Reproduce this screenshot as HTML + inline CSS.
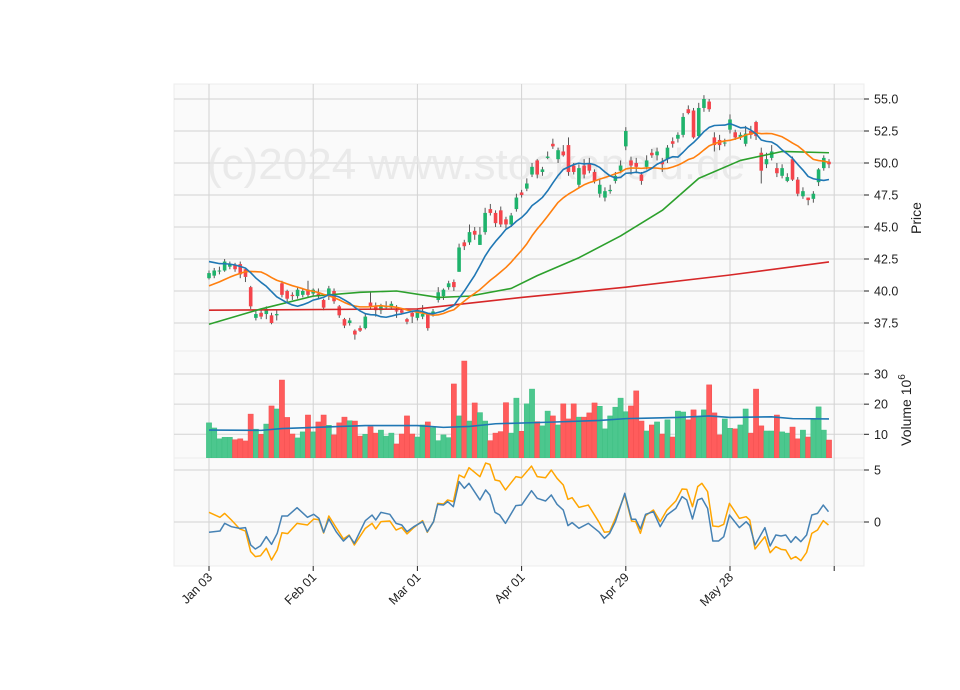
<!DOCTYPE html>
<html><head><meta charset="utf-8"><style>
body{margin:0;background:#fff;}
svg{display:block;font-family:"Liberation Sans",sans-serif;}
</style></head><body>
<svg id="chart" width="960" height="690" viewBox="0 0 960 690" xmlns="http://www.w3.org/2000/svg">
<defs>
<clipPath id="cp"><rect x="174" y="84" width="690" height="267"/></clipPath>
<clipPath id="cv"><rect x="174" y="351" width="690" height="107"/></clipPath>
<clipPath id="cm"><rect x="174" y="458" width="690" height="108"/></clipPath>
</defs>
<rect x="174" y="84" width="690" height="267" fill="#fafafa" stroke="#ececec"/>
<rect x="174" y="351" width="690" height="107" fill="#fafafa" stroke="#ececec"/>
<rect x="174" y="458" width="690" height="108" fill="#fafafa" stroke="#ececec"/>
<g id="grid"></g>
<text x="207" y="179" font-size="44" fill="#e6e6e6" fill-opacity="0.8">(c)2024 www.stockanoid.de</text>
<g id="marks"></g>
<g id="axes"></g>
<text transform="translate(921,218) rotate(-90)" text-anchor="middle" font-size="14" fill="#222">Price</text>
<text transform="translate(911,410) rotate(-90)" text-anchor="middle" font-size="14" fill="#222">Volume  10<tspan font-size="10" dy="-6">6</tspan></text>
</svg>
<script>
// ---- data ----
const xTickIdx=[0,20,40,60,80,100,120];
const xTickLabels=["Jan 03","Feb 01","Mar 01","Apr 01","Apr 29","May 28",""];
const priceTicks=[37.5,40.0,42.5,45.0,47.5,50.0,52.5,55.0];
const volTicks=[10,20,30];
const macdTicks=[0,5];
const warmupCloses=[38.5,38.5,38.5,38.5,38.5,38.5,38.5,38.5,38.5,38.5,42.4,42.4,42.4,42.4,42.4,42.4,42.4,42.4,42.4];
const opens=[41.0,41.2,41.6,41.6,41.9,42.0,42.1,41.7,40.3,37.9,38.3,38.2,38.1,38.1,40.6,40.0,39.7,39.6,39.7,40.1,39.8,39.8,39.3,39.6,40.0,38.8,37.8,37.5,36.9,37.1,37.1,39.1,38.8,38.5,38.8,38.7,38.5,38.5,37.8,38.3,37.9,38.0,38.2,38.2,39.3,39.6,40.3,40.7,41.5,43.8,43.8,44.7,43.6,44.6,46.4,46.1,46.3,45.6,45.2,46.4,47.7,48.0,49.1,50.2,49.3,50.4,51.5,50.3,50.9,51.4,49.8,48.3,49.8,50.0,49.3,47.6,47.3,47.8,48.6,49.4,51.3,50.2,50.0,49.1,49.7,50.8,50.6,50.1,50.3,51.7,51.9,52.2,54.2,54.1,52.1,54.3,54.8,52.0,51.8,51.6,52.6,52.4,52.0,51.5,52.5,53.2,50.8,49.9,50.4,49.6,49.0,48.6,50.3,48.7,47.4,47.3,47.2,48.5,49.6,50.1];
const closes=[41.4,41.6,41.6,42.3,42.1,41.7,41.3,41.1,38.8,38.2,38.0,38.6,37.5,38.2,39.7,39.4,39.6,40.1,40.0,39.7,40.1,39.6,38.7,40.2,39.2,38.1,37.3,37.7,36.6,36.9,38.0,38.8,38.5,38.8,38.8,39.0,38.4,38.3,37.6,38.0,38.4,38.2,37.1,38.4,39.9,40.1,40.6,40.3,43.4,43.5,44.6,44.4,44.4,46.1,46.1,45.3,45.2,45.2,45.9,47.3,47.5,48.4,49.7,49.1,49.5,50.5,51.3,51.0,50.6,49.3,49.3,49.6,49.1,49.4,48.6,48.3,47.8,47.9,49.0,49.8,52.5,49.8,49.7,48.6,50.2,50.6,50.9,49.9,51.2,51.5,52.2,53.6,53.9,52.0,54.3,55.0,54.2,51.4,51.4,51.6,53.4,52.0,52.2,52.3,52.2,52.1,49.4,50.3,50.9,49.2,49.6,48.9,48.7,47.6,47.8,47.1,47.6,49.5,50.4,49.9];
const highs=[41.6,41.8,41.9,42.5,42.3,42.2,42.3,41.8,40.4,38.5,38.5,38.8,38.3,38.5,40.8,40.1,39.9,40.3,40.2,40.8,40.2,40.2,39.4,40.4,40.2,38.9,37.9,37.9,37.0,37.3,38.2,39.9,39.1,39.0,39.2,39.2,38.9,38.6,37.9,38.4,38.6,38.9,38.3,38.6,40.3,40.2,40.8,40.9,43.7,44.0,45.2,45.0,45.0,46.5,46.8,46.3,46.6,45.8,46.1,47.6,47.9,48.8,50.0,50.3,49.7,50.9,51.9,51.2,51.4,52.0,50.0,49.9,50.3,50.4,49.5,48.7,48.1,48.3,49.3,50.2,52.8,50.5,50.4,49.3,50.6,51.1,51.2,50.4,51.4,52.0,52.4,53.9,54.5,54.3,54.7,55.3,55.0,52.4,52.2,51.9,53.8,52.6,52.4,52.9,52.9,53.3,51.2,50.8,51.4,50.0,49.9,49.2,50.5,48.9,48.1,47.3,47.8,49.6,50.6,50.3];
const lows=[40.9,41.0,41.3,41.5,41.7,41.5,41.0,40.7,38.6,37.7,37.8,37.8,37.4,37.7,39.5,39.1,39.3,39.4,39.5,39.5,39.6,39.4,38.5,39.3,39.0,37.9,37.1,37.3,36.2,36.8,37.0,38.6,38.0,38.2,38.6,38.6,37.9,38.2,37.4,37.5,37.7,37.8,36.9,38.0,39.1,39.3,40.1,40.0,41.5,43.2,43.6,44.0,43.6,44.4,45.9,45.0,45.0,44.9,45.0,46.2,47.3,47.8,48.9,48.8,49.0,50.3,51.1,50.0,50.5,49.0,49.1,48.0,48.8,49.2,48.4,47.3,47.0,47.6,48.4,49.2,51.0,49.1,49.2,48.3,49.5,50.4,50.2,49.3,50.0,51.2,51.6,52.0,53.8,51.9,52.0,54.0,54.0,50.9,51.0,51.3,52.3,51.8,51.8,51.3,51.9,51.8,48.4,49.6,50.2,48.9,48.8,48.5,48.6,47.4,47.2,46.7,46.9,48.2,49.4,49.6];
const volumes=[13.8,12.1,8.5,9.0,9.0,8.2,8.5,7.8,16.7,11.7,10.0,13.4,19.4,18.4,28.0,15.6,10.1,8.8,10.8,16.4,10.8,14.1,16.4,13.0,9.8,13.8,15.7,14.5,14.4,9.4,10.0,12.5,10.4,11.4,9.4,10.4,6.8,10.1,16.1,10.1,9.1,13.1,14.1,12.2,7.9,9.8,8.9,26.7,16.1,34.3,14.4,20.4,17.2,14.4,7.9,10.4,10.9,20.5,10.4,22.0,11.0,20.1,25.0,14.2,12.8,17.7,16.1,13.1,20.1,15.1,20.1,15.7,15.7,17.1,20.4,19.3,11.8,16.1,19.0,22.0,17.5,19.4,24.4,14.4,11.1,13.1,14.1,10.1,14.8,9.1,17.7,17.4,14.8,18.1,15.7,18.1,26.4,17.1,9.8,15.1,12.0,11.8,13.1,18.4,10.4,25.0,12.8,11.1,11.1,16.4,10.8,10.4,12.4,8.5,11.4,9.1,14.8,19.1,11.4,8.1];
const ma50Idx=[0,10,20,29,36,44,50,58,63,71,79,87,94,102,110,119];
const ma50Val=[37.4,38.6,39.6,39.9,40.0,39.5,39.6,40.2,41.2,42.6,44.3,46.3,48.8,50.2,50.9,50.8];
const ma200Idx=[0,40,60,80,100,119];
const ma200Val=[38.5,38.6,39.5,40.3,41.25,42.27];
const volMaIdx=[0,10,14,30,40,45,50,55,65,75,80,90,96,100,108,112,119];
const volMaVal=[11.4,11.3,11.9,12.9,12.9,12.3,12.6,13.5,14.0,14.6,15.2,15.6,16.1,15.6,15.8,15.2,15.1];
const macdIdx=[0,2.1,3,4.3,5.9,7,8,8.9,9.9,11,12,13.1,14,15.1,16.9,18.9,20.1,21.1,22,23,24.4,25.8,26.9,27.9,30,31.3,32,33,34.7,35.9,37,38,39.3,41,41.9,43.1,43.9,45,45.8,46.9,48,49,49.9,52,53.1,53.9,54.9,55.8,56.9,58.9,60,61.9,63,64.6,65.7,66.8,68,68.9,69.7,71,72.8,74.8,75.9,76.9,78,79.8,81.1,81.9,82.8,83.8,85.3,86.6,87.9,89.6,90.8,91.7,92.8,93.8,94.6,95.7,96.7,97.8,98.8,99.9,101.8,103.1,103.8,104.8,106.7,107.7,108.8,109.8,110.7,111.7,112.6,113.6,114.7,115.7,116.8,117.9,118.9];
const macdVal=[-0.99,-0.87,-0.13,-0.45,-0.61,-0.54,-2.2,-2.6,-2.28,-1.41,-2.15,-1.09,0.58,0.58,1.38,0.45,0.74,0.35,-0.99,0.29,-0.93,-1.83,-1.31,-2.05,0.13,0.67,0.19,0.93,0.74,-0.13,-0.29,-0.93,-0.45,0.03,-0.93,0.03,1.7,1.63,1.96,1.47,3.88,3.24,3.72,2.12,3.08,2.6,0.93,0.67,-0.13,1.57,1.63,3.01,2.28,2.02,2.6,1.7,1.15,-0.35,-0.06,-0.61,-0.13,-0.93,-1.57,-1.09,0.03,2.76,0.26,0.26,-0.67,0.74,0.99,-0.45,0.67,1.31,2.44,2.12,0.29,2.12,2.28,1.31,-1.83,-1.83,-1.41,0.67,-0.54,0.03,-0.35,-2.21,-0.54,-2.31,-1.25,-1.35,-1.25,-1.96,-1.41,-1.89,-1.25,0.67,0.83,1.63,0.99];
const signalVal=[0.93,0.45,0.83,0.19,-0.67,-0.87,-2.85,-3.33,-3.24,-2.53,-3.65,-2.69,-1.03,-1.12,-0.13,-0.29,0.29,0.22,-1.06,0.58,-0.54,-1.63,-1.25,-2.21,-0.61,-0.13,-0.67,0.03,0.1,-0.77,-0.54,-1.15,-0.54,0.13,-0.99,0.03,1.79,1.73,2.12,1.96,4.52,4.26,5.22,4.36,5.67,5.54,4.04,3.94,3.08,4.36,4.26,5.38,4.36,4.26,5.0,4.2,3.56,2.18,2.34,1.41,1.63,0.03,-0.99,-0.93,0.35,2.6,0.1,0.03,-1.09,0.61,1.15,0.03,1.15,2.02,3.17,3.14,1.47,3.4,3.72,2.92,-0.38,-0.45,-0.22,1.79,0.35,0.51,0.19,-2.6,-1.41,-2.95,-2.37,-2.63,-2.69,-3.56,-3.33,-3.72,-2.92,-1.09,-0.77,0.13,-0.29];

// ---- scales ----
const bx=i=>209+i*5.21;
const py=p=>99+(55-p)*12.8;
const vy=v=>434.3-(v-10)*3.015;
const my=m=>522-m*10.4;
const NS="http://www.w3.org/2000/svg";
function mk(tag,attrs,parent){const e=document.createElementNS(NS,tag);for(const k in attrs)e.setAttribute(k,attrs[k]);parent.appendChild(e);return e;}
const grid=document.getElementById('grid'),marks=document.getElementById('marks'),axes=document.getElementById('axes');

// grid + x ticks
xTickIdx.forEach((t,k)=>{
  const x=bx(t);
  [[84,351],[351,458],[458,566]].forEach(([a,b])=>{
    const l=mk('line',{x1:x,x2:x,y1:a,y2:b,stroke:'#d3d3d3','stroke-width':1},grid);
    
    
  });
  const tk=mk('line',{x1:x,x2:x,y1:566,y2:571,stroke:'#222'},axes);
  
  
  if(xTickLabels[k]){
    const tx=mk('text',{transform:`translate(${x+4},${578}) rotate(-45)`,'text-anchor':'end','font-size':12.5,fill:'#222'},axes);
    tx.textContent=xTickLabels[k];
    
    
  }
});
function yTicks(ticks,f,fmt){
  ticks.forEach(t=>{
    const y=f(t);
    const g=mk('line',{x1:174,x2:864,y1:y,y2:y,stroke:'#d3d3d3'},grid);
    
    
    const tk=mk('line',{x1:864,x2:869,y1:y,y2:y,stroke:'#222'},axes);
    
    
    const tx=mk('text',{x:874,y:y+4.5,'font-size':12.5,fill:'#222'},axes);
    tx.textContent=fmt(t);
    
    
  });
}
yTicks(priceTicks,py,t=>t.toFixed(1));
yTicks(volTicks,vy,t=>String(t));
yTicks(macdTicks,my,t=>String(t));

// price panel
const gp=mk('g',{'clip-path':'url(#cp)'},marks);
function line(idx,vals,f,color,w,parent,name){
  const pts=vals.map((v,k)=>bx(idx[k]).toFixed(2)+','+f(v).toFixed(2)).join(' ');
  const p=mk('polyline',{points:pts,fill:'none',stroke:color,'stroke-width':w,'stroke-linejoin':'round'},parent);
  
  
}
function sma(n){
  const all=warmupCloses.concat(closes),off=warmupCloses.length,out=[];
  closes.forEach((c,i)=>{const j=i+off;const s=all.slice(Math.max(0,j-n+1),j+1);out.push(s.reduce((a,b)=>a+b,0)/s.length);});
  return out;
}
const idxAll=closes.map((c,i)=>i);
closes.forEach((c,i)=>{
  const up=c>=opens[i],x=bx(i),col=up?'#1fb36c':'#f4444b';
  const w=mk('line',{x1:x,x2:x,y1:py(highs[i]),y2:py(lows[i]),stroke:'#555','stroke-width':1},gp);
  
  
  const top=py(Math.max(c,opens[i])),bot=py(Math.min(c,opens[i]));
  const r=mk('rect',{x:x-1.8,y:top,width:3.6,height:Math.max(1,bot-top),fill:col},gp);
  
  
});
line(ma200Idx,ma200Val,py,'#d62728',1.6,gp,'ma200-line');
line(ma50Idx,ma50Val,py,'#2ca02c',1.6,gp,'ma50-line');
line(idxAll,sma(20),py,'#ff7f0e',1.6,gp,'ma20-line');
line(idxAll,sma(10),py,'#1f77b4',1.6,gp,'ma10-line');

// volume
const gv=mk('g',{'clip-path':'url(#cv)'},marks);
volumes.forEach((v,i)=>{
  const up=closes[i]>=opens[i];
  const y=vy(v);
  const r=mk('rect',{x:bx(i)-2.6,y:y,width:5.2,height:458-y,fill:up?'#4cc78e':'#ff5c5c',stroke:up?'#3cbf82':'#f25050','stroke-width':0.5},gv);
  
  
});
line(volMaIdx,volMaVal,vy,'#1f77b4',1.6,gv,'volume-ma-line');

// macd
const gm=mk('g',{'clip-path':'url(#cm)'},marks);
line(macdIdx,signalVal,my,'#ffa500',1.5,gm,'macd-signal-line');
line(macdIdx,macdVal,my,'#4682b4',1.5,gm,'macd-line');
</script>
</body></html>
